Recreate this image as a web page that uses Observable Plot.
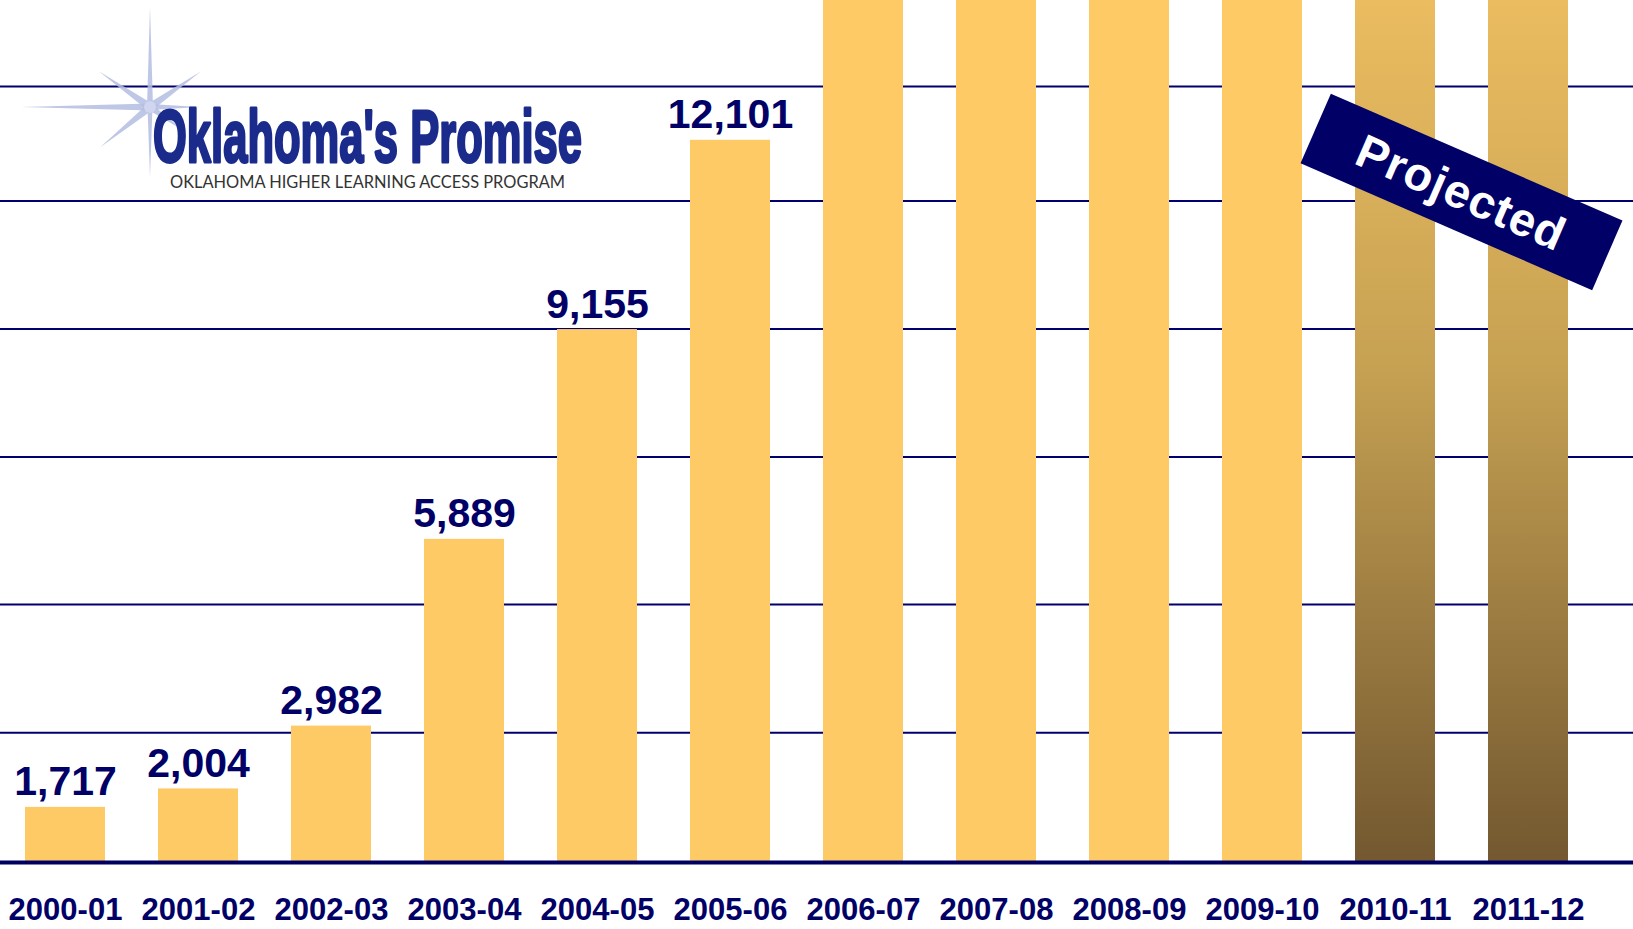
<!DOCTYPE html>
<html>
<head>
<meta charset="utf-8">
<script src="https://cdn.jsdelivr.net/npm/d3@7"></script>
<script src="https://cdn.jsdelivr.net/npm/@observablehq/plot@0.6"></script>
<style>
  html, body { margin: 0; padding: 0; background: #fff; overflow: hidden; }
  #chart svg { display: block; }
</style>
</head>
<body>
<div id="chart"></div>
<script>
// ---- data ----
const years = ["2000-01","2001-02","2002-03","2003-04","2004-05","2005-06","2006-07","2007-08","2008-09","2009-10","2010-11","2011-12"];
const students = [1717, 2004, 2982, 5889, 9155, 12101, 14376, 16500, 18300, 19700, 20900, 22000];
const projectedYears = ["2010-11", "2011-12"];
const labelledYears = ["2000-01","2001-02","2002-03","2003-04","2004-05","2005-06","2006-07"];
const gridValues = [2880, 4875, 7170, 9165, 11155, 12940];
const yDomain = [859, 14277];
const bannerText = "Projected";
const bannerYears = ["2010-11", "2011-12"];
const bannerValue = 11290;
const logoTitle = "Oklahoma's Promise";
const logoSubtitle = "OKLAHOMA HIGHER LEARNING ACCESS PROGRAM";

// ---- styles ----
const NAVY = "#000066";
const BAR = "#FDCA66";
const FONT = "'Liberation Sans', Arial, Helvetica, sans-serif";
const fmt = d3.format(",");

const data = years.map((year, i) => ({year, value: students[i], projected: projectedYears.includes(year)}));

const chart = Plot.plot({
  width: 1633,
  height: 929,
  marginTop: 0,
  marginBottom: 67,
  marginLeft: -6,
  marginRight: 34,
  style: {fontFamily: FONT, fontSize: "31px", fontWeight: "bold", color: NAVY, background: "white", overflow: "hidden"},
  x: {domain: years, paddingInner: 0.4, paddingOuter: 0.2, label: null, tickSize: 0, tickPadding: 35},
  y: {domain: yDomain, axis: null},
  marks: [
    Plot.ruleY(gridValues, {stroke: "#00006e", strokeWidth: 2, insetLeft: -10, insetRight: -40}),
    Plot.barY(data.filter(d => !d.projected), {x: "year", y: "value", fill: BAR, clip: true}),
    Plot.barY(data.filter(d => d.projected), {x: "year", y: "value", fill: "url(#projGrad)", clip: true}),
    Plot.ruleY([yDomain[0]], {stroke: "#000060", strokeWidth: 4, insetLeft: -10, insetRight: -40}),
    Plot.text(data.filter(d => labelledYears.includes(d.year)), {x: "year", y: "value", text: d => fmt(d.value),
      lineAnchor: "bottom", dy: -12, fontSize: 41, fontWeight: "bold", fill: NAVY, clip: true})
  ]
});

document.getElementById("chart").appendChild(chart);

const svg = d3.select(chart);
const sx = chart.scale("x"), sy = chart.scale("y");
const yr = sy.range;

// gradient for projected bars
const defs = svg.insert("defs", ":first-child");
const grad = defs.append("linearGradient").attr("id", "projGrad")
  .attr("gradientUnits", "userSpaceOnUse")
  .attr("x1", 0).attr("x2", 0).attr("y1", Math.min(...yr)).attr("y2", Math.max(...yr));
grad.append("stop").attr("offset", "0").attr("stop-color", "#EBBC60");
grad.append("stop").attr("offset", "0.42").attr("stop-color", "#C7A253");
grad.append("stop").attr("offset", "1").attr("stop-color", "#735830");

// logo
const logo = svg.append("g").attr("text-anchor", "start");
const starC = [150, 107];
const rays = [[-90, 100, 6], [90, 70, 5], [180, 128, 7], [0, 50, 6], [-145, 62, 8], [-35, 62, 8], [141, 64, 8], [35, 40, 7]];
rays.forEach(([a, len, w]) => {
  const r = a * Math.PI / 180;
  const dx = Math.cos(r), dy = Math.sin(r);
  const px = -dy, py = dx;
  const pts = [
    [starC[0] + px * w / 2, starC[1] + py * w / 2],
    [starC[0] + dx * len, starC[1] + dy * len],
    [starC[0] - px * w / 2, starC[1] - py * w / 2]
  ];
  logo.append("polygon").attr("points", pts.map(p => p.join(",")).join(" "))
    .attr("fill", "#b4bde2").attr("opacity", 0.85);
});
logo.append("circle").attr("cx", starC[0]).attr("cy", starC[1]).attr("r", 6).attr("fill", "#d0d6ef");
logo.append("text").attr("x", 153).attr("y", 161.5).attr("text-anchor", "start")
  .attr("font-family", FONT).attr("font-weight", "bold").attr("font-size", 74)
  .attr("textLength", 429).attr("lengthAdjust", "spacingAndGlyphs")
  .attr("fill", "#1B2B8C").attr("stroke", "#1B2B8C").attr("stroke-width", 3).attr("stroke-linejoin", "round")
  .text(logoTitle);
logo.append("text").attr("x", 170).attr("y", 187.5).attr("text-anchor", "start")
  .attr("font-family", "Lato, 'Open Sans', sans-serif").attr("font-weight", "normal").attr("font-size", 17.5)
  .attr("textLength", 395).attr("lengthAdjust", "spacingAndGlyphs")
  .attr("fill", "#333333")
  .text(logoSubtitle);

// "Projected" banner, positioned through the scales
const bx = (sx.apply(bannerYears[0]) + sx.apply(bannerYears[1])) / 2 + sx.bandwidth / 2;
const by = sy.apply(bannerValue);
const banner = svg.append("g").attr("transform", `translate(${bx},${by}) rotate(23.5)`);
banner.append("rect").attr("x", -159).attr("y", -38).attr("width", 318).attr("height", 76).attr("fill", NAVY);
banner.append("text").attr("text-anchor", "middle").attr("dy", "0.36em")
  .attr("font-family", FONT).attr("font-weight", "bold").attr("font-size", 47)
  .attr("letter-spacing", 1).attr("fill", "white")
  .text(bannerText);
</script>
</body>
</html>
